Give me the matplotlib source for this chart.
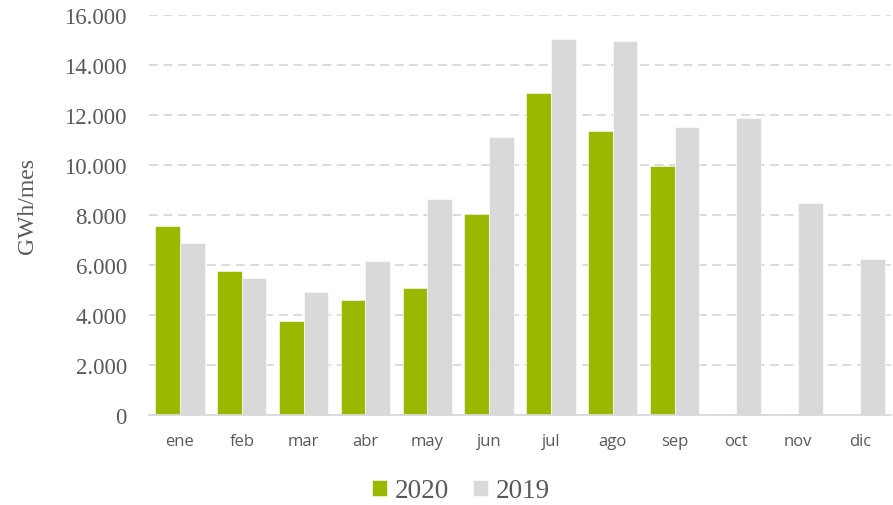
import matplotlib.pyplot as plt
import numpy as np
from matplotlib.ticker import FuncFormatter

months = ['ene', 'feb', 'mar', 'abr', 'may', 'jun', 'jul', 'ago', 'sep', 'oct', 'nov', 'dic']
gwh_2020 = [7560, 5750, 3760, 4580, 5070, 8020, 12860, 11350, 9950, np.nan, np.nan, np.nan]
gwh_2019 = [6880, 5460, 4920, 6150, 8630, 11120, 15030, 14950, 11520, 11860, 8470, 6240]
yticks = [0, 2000, 4000, 6000, 8000, 10000, 12000, 14000, 16000]

green = '#9cb700'
grey = '#d9d9d9'
text_col = '#595959'

fig = plt.figure(figsize=(8.93, 5.06), dpi=100)
ax = fig.add_axes([149/893, 1 - 415.7/506, (891 - 149)/893, 400/506])

x = np.arange(len(months))
w = 0.4
b1 = ax.bar(x - w/2, gwh_2020, w, color=green, edgecolor='white', linewidth=0.4, label='2020', zorder=3)
b2 = ax.bar(x + w/2, gwh_2019, w, color=grey, edgecolor='white', linewidth=0.4, label='2019', zorder=3)

ax.set_xlim(-0.5, len(months) - 0.5)
ax.set_ylim(0, 16000)
ax.set_yticks(yticks)
ax.yaxis.set_major_formatter(FuncFormatter(lambda v, p: f'{int(v):,}'.replace(',', '.')))
ax.set_xticks(x)
ax.set_xticklabels(months, family='Open Sans', fontsize=12, color=text_col)
for lab in ax.get_yticklabels():
    lab.set_family('Liberation Serif')
    lab.set_fontsize(16.5)
    lab.set_color(text_col)
ax.tick_params(axis='y', length=0, pad=16)
ax.tick_params(axis='x', length=0, pad=13)

ax.yaxis.grid(True, color=grey, linestyle=(0, (5, 3)), linewidth=1.3, zorder=0)
ax.set_axisbelow(True)
for s in ['top', 'right', 'left']:
    ax.spines[s].set_visible(False)
ax.spines['bottom'].set_color(grey)
ax.spines['bottom'].set_linewidth(1.3)
ax.spines['bottom'].set_zorder(4)

fig.text(27/893, 1 - 206.5/506, 'GWh/mes', rotation=90, ha='center', va='center',
         family='Liberation Serif', fontsize=17, color=text_col)

fig.legend(handles=[b1, b2], labels=['2020', '2019'], loc='center',
           bbox_to_anchor=(461/893, 1 - 492/506), ncol=2, frameon=False,
           prop={'family': 'Liberation Serif', 'size': 19.5}, labelcolor=text_col,
           handlelength=0.55, handleheight=0.55, handletextpad=0.3, columnspacing=0.87)

fig.savefig('out.png', dpi=100)
